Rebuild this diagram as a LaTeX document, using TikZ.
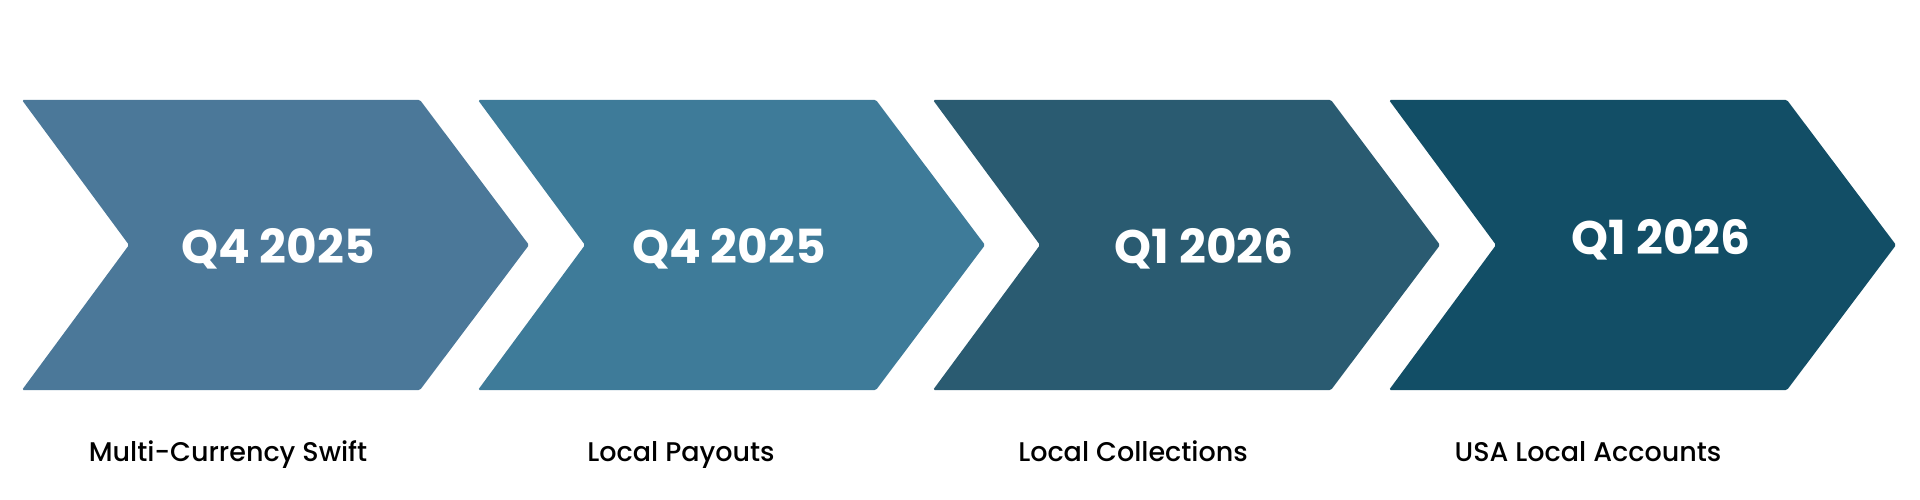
\documentclass[tikz,border=0pt]{standalone}
\usepackage{fontspec}
\setmainfont{Poppins}
\newfontfamily\captionfont{Poppins Medium}
\definecolor{stepA}{HTML}{4B7899}
\definecolor{stepB}{HTML}{3E7B99}
\definecolor{stepC}{HTML}{2A5B71}
\definecolor{stepD}{HTML}{124E66}

\begin{document}
\begin{tikzpicture}
    [
    x=1pt, y=-1pt,
    chevron/.style={fill=#1, draw=none, rounded corners=1.5pt},
    quarter/.style={font=\fontsize{47}{52}\selectfont\bfseries, text=white, anchor=base},
    caption/.style={font=\captionfont\fontsize{27}{32}\selectfont, text=black, anchor=base}
    ]
    \useasboundingbox (0,0) rectangle (1920,500);

    \foreach \x/\col in {22/stepA, 478/stepB, 933/stepC, 1389/stepD}
        \path[chevron=\col] (\x,100) -- ++(398,0) -- ++(109,145) -- ++(-109,145)
            -- ++(-398,0) -- ++(107,-145) -- cycle;

    \node[quarter] (q1) at (278,263) {Q4 2025};
    \node[quarter] (q2) at (729,263) {Q4 2025};
    \node[quarter] (q3) at (1204,263) {Q1 2026};
    \node[quarter] (q4) at (1661,254) {Q1 2026};

    \node[caption] (c1) at (228,461) {Multi-Currency Swift};
    \node[caption] (c2) at (681,461) {Local Payouts};
    \node[caption] (c3) at (1133,461) {Local Collections};
    \node[caption] (c4) at (1588,461) {USA Local Accounts};
\end{tikzpicture}
\end{document}
